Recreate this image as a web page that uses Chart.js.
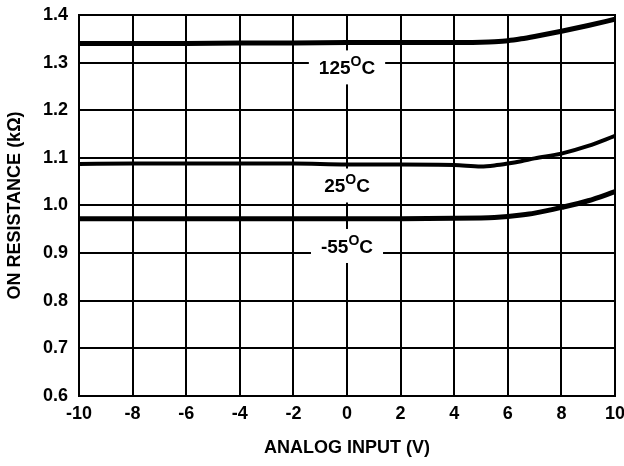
<!DOCTYPE html>
<html lang="en">
<head>
    <meta charset="UTF-8">
    <title>On Resistance vs Analog Input</title>
    <script src="https://cdn.jsdelivr.net/npm/chart.js"></script>
    <style>
        body {
            margin: 0;
            background: #fff;
        }
        #wrap {
            width: 624px;
            height: 466px;
        }
    </style>
</head>
<body>
    <div id="wrap">
        <canvas id="ronChart" width="624" height="466"></canvas>
    </div>

    <script>
        // analog input (V) and on resistance (kOhm)
        const inputV = [-10, -8, -6, -4, -2, 0, 2, 4, 5, 5.5, 6, 6.5, 7, 8, 9, 10];
        const ron125 = [1.340, 1.340, 1.340, 1.341, 1.341, 1.342, 1.342, 1.342, 1.343, 1.344, 1.346, 1.350, 1.355, 1.366, 1.378, 1.391];
        const ron25 = [1.087, 1.088, 1.088, 1.088, 1.088, 1.086, 1.086, 1.085, 1.082, 1.084, 1.088, 1.093, 1.099, 1.109, 1.125, 1.146];
        const ronM55 = [0.972, 0.972, 0.972, 0.972, 0.972, 0.972, 0.972, 0.973, 0.974, 0.975, 0.977, 0.980, 0.984, 0.996, 1.010, 1.029];

        const xTicks = [-10, -8, -6, -4, -2, 0, 2, 4, 6, 8, 10];
        const yTicks = [0.6, 0.7, 0.8, 0.9, 1.0, 1.1, 1.2, 1.3, 1.4];

        // curve labels: temperature text, where they sit in data units
        const tempLabels = ['125', '25', '-55'];
        const tempLabelX = [0, 0, 0];
        const tempLabelY = [1.29, 1.042, 0.915];

        const FONT = '"Liberation Sans", Arial, sans-serif';

        function toPoints(ys) {
            return inputV.map((x, i) => ({ x: x, y: ys[i] }));
        }

        const curveLabels = {
            id: 'curveLabels',
            afterDraw(chart) {
                const ctx = chart.ctx;
                const xs = chart.scales.x;
                const ys = chart.scales.y;
                ctx.save();
                tempLabels.forEach((t, i) => {
                    const cx = xs.getPixelForValue(tempLabelX[i]);
                    const cy = ys.getPixelForValue(tempLabelY[i]);
                    ctx.font = 'bold 19px ' + FONT;
                    const wNum = ctx.measureText(t).width;
                    ctx.font = 'bold 14px ' + FONT;
                    const wDeg = ctx.measureText('O').width;
                    ctx.font = 'bold 19px ' + FONT;
                    const wC = ctx.measureText('C').width;
                    const total = wNum + wDeg + wC;
                    const boxW = total + 20;
                    const boxH = 34;
                    ctx.fillStyle = '#fff';
                    ctx.fillRect(cx - boxW / 2, cy - boxH / 2, boxW, boxH);
                    ctx.fillStyle = '#000';
                    ctx.textBaseline = 'alphabetic';
                    ctx.textAlign = 'left';
                    const base = cy + 7;
                    let px = cx - total / 2;
                    ctx.fillText(t, px, base);
                    px += wNum;
                    ctx.font = 'bold 14px ' + FONT;
                    ctx.fillText('O', px, base - 8);
                    px += wDeg;
                    ctx.font = 'bold 19px ' + FONT;
                    ctx.fillText('C', px, base);
                });
                ctx.restore();
            }
        };

        const ctx = document.getElementById('ronChart').getContext('2d');
        new Chart(ctx, {
            type: 'line',
            data: {
                datasets: [
                    { label: '125°C', data: toPoints(ron125), borderWidth: 5 },
                    { label: '25°C', data: toPoints(ron25), borderWidth: 4 },
                    { label: '-55°C', data: toPoints(ronM55), borderWidth: 5 }
                ].map(d => Object.assign(d, {
                    borderColor: '#000',
                    backgroundColor: '#000',
                    pointRadius: 0,
                    fill: false,
                    cubicInterpolationMode: 'monotone'
                }))
            },
            options: {
                responsive: false,
                animation: false,
                layout: {
                    padding: { top: 15, right: 9, left: 0, bottom: 0 }
                },
                scales: {
                    x: {
                        type: 'linear',
                        min: -10,
                        max: 10,
                        afterBuildTicks: s => { s.ticks = xTicks.map(v => ({ value: v })); },
                        afterFit: s => {
                            s.height = 70;
                            s.paddingLeft = 0;
                            s.paddingRight = 0;
                        },
                        grid: { color: '#000', lineWidth: 2, drawTicks: false },
                        border: { color: '#000', width: 2 },
                        ticks: {
                            color: '#000',
                            padding: 7,
                            font: { family: FONT, size: 18, weight: 'bold' }
                        },
                        title: {
                            display: true,
                            text: 'ANALOG INPUT (V)',
                            color: '#000',
                            padding: { top: 0, bottom: 7 },
                            font: { family: FONT, size: 18, weight: 'bold' }
                        }
                    },
                    y: {
                        min: 0.6,
                        max: 1.4,
                        afterBuildTicks: s => { s.ticks = yTicks.map(v => ({ value: v })); },
                        afterFit: s => {
                            s.width = 79;
                            s.paddingTop = 0;
                            s.paddingBottom = 0;
                        },
                        grid: { color: '#000', lineWidth: 2, drawTicks: false },
                        border: { color: '#000', width: 2 },
                        ticks: {
                            color: '#000',
                            padding: 11,
                            font: { family: FONT, size: 18, weight: 'bold' },
                            callback: v => v.toFixed(1)
                        },
                        title: {
                            display: true,
                            text: 'ON RESISTANCE (kΩ)',
                            color: '#000',
                            padding: { top: 4, bottom: 0 },
                            font: { family: FONT, size: 18, weight: 'bold' }
                        }
                    }
                },
                plugins: {
                    legend: { display: false },
                    tooltip: { enabled: false }
                }
            },
            plugins: [curveLabels, {
                // closes the frame on the top and right edges
                id: 'frame',
                beforeDatasetsDraw(chart) {
                    const a = chart.chartArea;
                    const c = chart.ctx;
                    c.save();
                    c.strokeStyle = '#000';
                    c.lineWidth = 2;
                    c.strokeRect(a.left, a.top, a.right - a.left, a.bottom - a.top);
                    c.restore();
                }
            }]
        });
    </script>
</body>
</html>
